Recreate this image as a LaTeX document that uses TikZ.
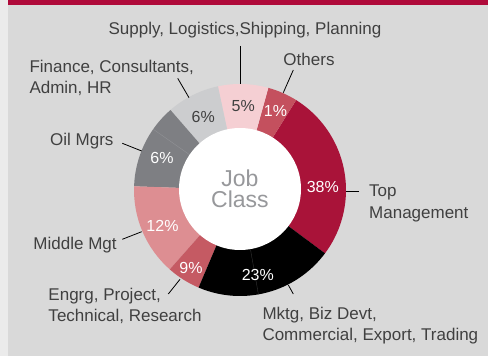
\documentclass[tikz,border=0pt]{standalone}
\usepackage{fontspec}
\setmainfont{Liberation Sans}
\usetikzlibrary{calc}
\definecolor{cStrip}{HTML}{EBEBEB}
\definecolor{cBg}{HTML}{D9D9D9}
\definecolor{cBar}{HTML}{AF0A3A}
\definecolor{cTop}{HTML}{A91339}
\definecolor{cOth}{HTML}{C4505E}
\definecolor{cPink}{HTML}{F5CFD3}
\definecolor{cLgray}{HTML}{CCCDCF}
\definecolor{cDgray}{HTML}{7E7F83}
\definecolor{cMid}{HTML}{DD8E92}
\definecolor{cEng}{HTML}{C55A63}
\definecolor{cBlack}{HTML}{000000}
\definecolor{cText}{HTML}{404040}
\definecolor{cHub}{HTML}{97989B}
\newcommand{\donutwedge}[3]{\fill[#1] (C) -- ($(C)+(#2:106pt)$) arc[start angle=#2, end angle=#3, radius=106pt] -- cycle;}
\begin{document}
\begin{tikzpicture}[x=1pt,y=1pt,
  lbl/.style={text=cText, inner sep=0pt, font=\fontsize{17}{21.5}\selectfont},
  pctw/.style={text=white, inner sep=0pt, anchor=base, font=\fontsize{16}{19}\selectfont},
  pctd/.style={text=cText, inner sep=0pt, anchor=base, font=\fontsize{16}{19}\selectfont},
  leader/.style={draw=black, line width=0.8pt},
  hubstyle/.style={circle, fill=white, minimum size=122pt, inner sep=0pt, align=center, text=cHub, font=\fontsize{23}{21}\selectfont}]
\useasboundingbox (0,0) rectangle (488,356);
\fill[cStrip] (0,0) rectangle (8,356);
\fill[cBg] (8,0) rectangle (488,351);
\fill[cBar] (8,351) rectangle (488,356);
\coordinate (C) at (240,166);
\donutwedge{cTop}{-36.7}{58}
\donutwedge{cOth}{58}{74.5}
\donutwedge{cPink}{74.5}{102}
\donutwedge{cLgray}{102}{131}
\donutwedge{cDgray}{131}{178}
\donutwedge{cMid}{178}{228.5}
\donutwedge{cEng}{228.5}{247}
\donutwedge{cBlack}{247}{323.3}
\draw[line width=0.4pt, color=cDgray!85!white] ($(C)+(145:61pt)$) -- ($(C)+(145:106pt)$);
\draw[line width=0.4pt, color=black!80!white] ($(C)+(280:61pt)$) -- ($(C)+(280:106pt)$);
\node[hubstyle] (hub) at (240,167) {Job\\Class};
% percentages
\node[pctw] (p38) at (322.8,163.3) {38\%};
\node[pctw] (p23) at (257.8,75) {23\%};
\node[pctw] (p9) at (191,82.7) {9\%};
\node[pctw] (p12) at (162.5,124.3) {12\%};
\node[pctw] (p6a) at (162,192.3) {6\%};
\node[pctd] (p6b) at (203.3,233.7) {6\%};
\node[pctd] (p5) at (243.3,244.7) {5\%};
\node[pctw] (p1) at (275.5,239.7) {1\%};
% labels
\node[lbl, anchor=base] (supply) at (245,321.7) {Supply, Logistics,Shipping, Planning};
\node[lbl, anchor=base] (others) at (309,290) {Others};
\node[lbl, anchor=base west, align=left] (finance) at (29.3,262) {Finance, Consultants,\\Admin, HR};
\node[lbl, anchor=base west] (oil) at (50,210) {Oil Mgrs};
\node[lbl, anchor=base west] (middle) at (33.3,106.7) {Middle Mgt};
\node[lbl, anchor=base west, align=left] (engrg) at (48.3,34) {Engrg, Project,\\Technical, Research};
\node[lbl, anchor=base west, align=left] (mktg) at (262.3,15.3) {Mktg, Biz Devt,\\Commercial, Export, Trading};
\node[lbl, anchor=base west, align=left] (top) at (369,137.7) {Top\\Management};
% leader lines
\coordinate (supA) at (240,310); \coordinate (supB) at (240,272);
\coordinate (othA) at (293.3,286); \coordinate (othB) at (283.3,263.3);
\coordinate (finA) at (177.7,277.7); \coordinate (finB) at (189,258.3);
\coordinate (oilA) at (122.3,212.7); \coordinate (oilB) at (141.7,205);
\coordinate (midA) at (122.3,116.7); \coordinate (midB) at (141.7,124.3);
\coordinate (engA) at (168.3,62); \coordinate (engB) at (180,76.7);
\coordinate (mktA) at (293.3,62); \coordinate (mktB) at (288.3,71);
\coordinate (topA) at (359,164.3); \coordinate (topB) at (345.7,164.3);
\draw[leader] (supA) -- (supB);
\draw[leader] (othA) -- (othB);
\draw[leader] (finA) -- (finB);
\draw[leader] (oilA) -- (oilB);
\draw[leader] (midA) -- (midB);
\draw[leader] (engA) -- (engB);
\draw[leader] (mktA) -- (mktB);
\draw[leader] (topA) -- (topB);
\end{tikzpicture}
\end{document}
